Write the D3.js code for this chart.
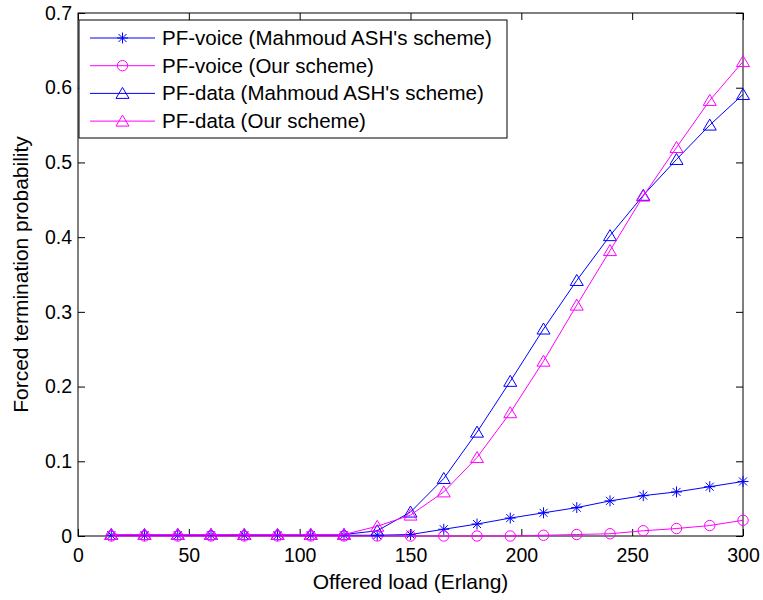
<!DOCTYPE html>
<html>
<head>
<meta charset="utf-8">
<script src="https://cdn.jsdelivr.net/npm/d3@7"></script>
<style>
  body { margin: 0; background: #fff; }
  text { font-family: "Liberation Sans", Arial, sans-serif; }
</style>
</head>
<body>
<div id="chart"></div>
<script>
const svgWidth = 763;
const svgHeight = 600;
const margin = {top: 13, right: 20, bottom: 64, left: 78};
const width = 743 - margin.left;
const height = 536 - margin.top;
const tickFont = "19.5px";
const legendFont = "20.5px";
const titleFont = "21px";

// offered load (Erlang)
const loads = [15, 30, 45, 60, 75, 90, 105, 120, 135, 150, 165, 180, 195, 210, 225, 240, 255, 270, 285, 300];
const voiceAsh = [0.001, 0.001, 0.001, 0.001, 0.001, 0.001, 0.001, 0.001, 0.001, 0.002, 0.009, 0.016, 0.024, 0.031, 0.038, 0.047, 0.054, 0.059, 0.066, 0.073];
const voiceOur = [0.000, 0.000, 0.000, 0.000, 0.000, 0.000, 0.000, 0.000, 0.000, 0.000, 0.000, 0.000, 0.000, 0.001, 0.002, 0.003, 0.007, 0.010, 0.014, 0.021];
const dataAsh = [0.002, 0.002, 0.002, 0.002, 0.002, 0.002, 0.002, 0.002, 0.007, 0.032, 0.077, 0.139, 0.207, 0.277, 0.342, 0.402, 0.456, 0.504, 0.550, 0.591];
const dataOur = [0.002, 0.002, 0.002, 0.002, 0.002, 0.002, 0.002, 0.002, 0.013, 0.028, 0.059, 0.105, 0.165, 0.234, 0.309, 0.382, 0.455, 0.520, 0.583, 0.635];
const xTicks = [0, 50, 100, 150, 200, 250, 300];
const yTicks = [0, 0.1, 0.2, 0.3, 0.4, 0.5, 0.6, 0.7];

const blue = "#0000ff";
const magenta = "#ff00ff";

const series = [
  {name: "PF-voice (Mahmoud ASH's scheme)", values: voiceAsh, color: blue, marker: "star"},
  {name: "PF-voice (Our scheme)", values: voiceOur, color: magenta, marker: "circle"},
  {name: "PF-data (Mahmoud ASH's scheme)", values: dataAsh, color: blue, marker: "triangle"},
  {name: "PF-data (Our scheme)", values: dataOur, color: magenta, marker: "triangle"}
];

const svg = d3.select("#chart")
              .append("svg")
              .attr("width", svgWidth)
              .attr("height", svgHeight);

const g = svg.append("g").attr("transform", "translate(" + margin.left + "," + margin.top + ")");

const xScale = d3.scaleLinear().domain([0, 300]).range([0, width]);
const yScale = d3.scaleLinear().domain([0, 0.7]).range([height, 0]);

// axes, matlab style: ticks inside on all four sides
g.append("g")
 .attr("transform", "translate(0," + height + ")")
 .call(d3.axisBottom(xScale).tickValues(xTicks).tickSizeInner(-7).tickSizeOuter(0).tickPadding(12).tickFormat(d3.format("d")))
 .call(a => a.select(".domain").remove());
g.append("g")
 .call(d3.axisTop(xScale).tickValues(xTicks).tickSizeInner(-7).tickSizeOuter(0).tickFormat(""))
 .call(a => a.select(".domain").remove());
g.append("g")
 .call(d3.axisLeft(yScale).tickValues(yTicks).tickSizeInner(-7).tickSizeOuter(0).tickPadding(6).tickFormat(d => d === 0 ? "0" : d3.format(".1f")(d)))
 .call(a => a.select(".domain").remove());
g.append("g")
 .attr("transform", "translate(" + width + ",0)")
 .call(d3.axisRight(yScale).tickValues(yTicks).tickSizeInner(-7).tickSizeOuter(0).tickFormat(""))
 .call(a => a.select(".domain").remove());

g.selectAll(".tick text")
 .style("font-size", tickFont)
 .style("font-family", "'Liberation Sans', Arial, sans-serif")
 .attr("fill", "#000");
g.selectAll(".tick line").attr("stroke", "#000");

g.append("rect")
 .attr("width", width)
 .attr("height", height)
 .attr("fill", "none")
 .attr("stroke", "#000")
 .attr("stroke-width", 1);

function drawMarker(sel, type, color) {
  if (type === "circle") {
    sel.append("circle").attr("r", 5.2).attr("fill", "none").attr("stroke", color);
  } else if (type === "triangle") {
    sel.append("path").attr("d", "M0,-6L6.5,5L-6.5,5Z").attr("fill", "none").attr("stroke", color);
  } else {
    sel.append("path")
       .attr("d", "M-5.5,0L5.5,0M0,-5.5L0,5.5M-4,-4L4,4M-4,4L4,-4")
       .attr("fill", "none").attr("stroke", color);
  }
}

const line = d3.line()
               .x(function(d, i) { return xScale(loads[i]); })
               .y(function(d) { return yScale(d); });

series.forEach(function(s) {
  g.append("path")
   .attr("d", line(s.values))
   .attr("fill", "none")
   .attr("stroke", s.color)
   .attr("stroke-width", 1);

  g.selectAll(null)
   .data(s.values)
   .enter()
   .append("g")
   .attr("transform", function(d, i) { return "translate(" + xScale(loads[i]) + "," + yScale(d) + ")"; })
   .each(function() { drawMarker(d3.select(this), s.marker, s.color); });
});

// legend
const legend = svg.append("g").attr("transform", "translate(79,20)");
legend.append("rect")
      .attr("width", 428)
      .attr("height", 118)
      .attr("fill", "#fff")
      .attr("stroke", "#000");

series.forEach(function(s, i) {
  const row = legend.append("g").attr("transform", "translate(0," + (18 + i * 27.7) + ")");
  row.append("line").attr("x1", 11).attr("x2", 76).attr("stroke", s.color);
  drawMarker(row.append("g").attr("transform", "translate(43.5,0)"), s.marker, s.color);
  row.append("text")
     .attr("x", 83)
     .attr("y", 7)
     .style("font-size", legendFont)
     .text(s.name);
});

// axis titles
svg.append("text")
   .attr("x", margin.left + width / 2)
   .attr("y", 589)
   .attr("text-anchor", "middle")
   .style("font-size", titleFont)
   .text("Offered load (Erlang)");

svg.append("text")
   .attr("transform", "translate(28," + (margin.top + height / 2) + ") rotate(-90)")
   .attr("text-anchor", "middle")
   .style("font-size", titleFont)
   .text("Forced termination probability");
</script>
</body>
</html>
